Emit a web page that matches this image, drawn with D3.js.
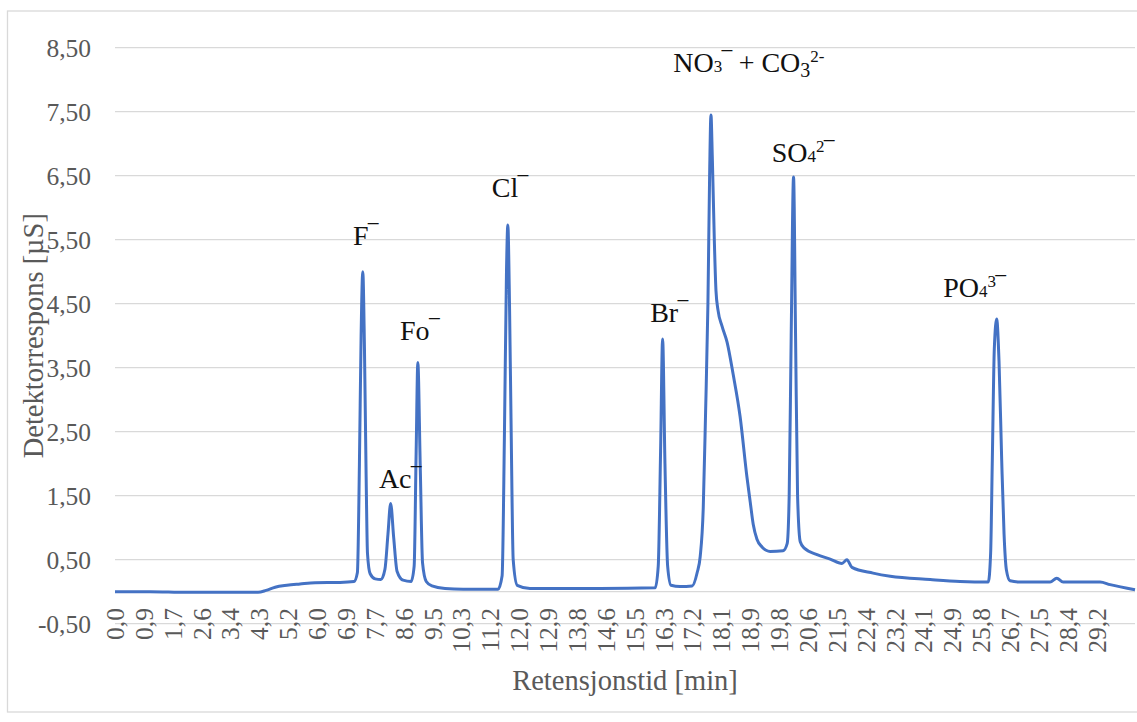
<!DOCTYPE html>
<html>
<head>
<meta charset="utf-8">
<script src="https://cdn.jsdelivr.net/npm/d3@7"></script>
<style>
  body { margin: 0; background: #fff; }
  svg { display: block; }
</style>
</head>
<body>
<div class="canvas"></div>
<script>
// chromatogram trace: retention time [min] and detector response [µS]
const retTime = [
  0.00, 1.04, 2.14, 3.43, 4.26, 4.50, 4.77, 5.12, 5.51, 5.96, 6.70, 7.12,
  7.22, 7.28, 7.33, 7.38, 7.43, 7.48, 7.52, 7.60, 7.75, 7.92,
  8.04, 8.13, 8.21, 8.30, 8.40, 8.58, 8.82,
  8.91, 8.97, 9.02, 9.09, 9.16, 9.27, 9.44, 9.83, 10.37, 11.41,
  11.53, 11.60, 11.66, 11.70, 11.75, 11.80, 11.86, 11.98, 12.36, 14.45, 16.09,
  16.18, 16.25, 16.31, 16.38, 16.46, 16.56, 16.83, 17.19,
  17.34, 17.43, 17.52, 17.59, 17.66, 17.71, 17.75, 17.79, 17.85, 17.90, 17.96,
  18.08, 18.23, 18.41, 18.62, 18.82, 18.92, 19.01, 19.12, 19.27, 19.51, 19.90, 20.02,
  20.08, 20.14, 20.21, 20.27, 20.33, 20.41, 20.53, 20.91, 21.30, 21.65, 21.80, 21.95,
  22.58, 23.09, 24.28, 25.17, 26.01,
  26.08, 26.13, 26.19, 26.26, 26.33, 26.41, 26.48, 26.55, 26.66, 26.96,
  27.85, 28.05, 28.24, 29.34, 29.64, 30.38
];
const response = [
  0.00, 0.00, -0.01, -0.01, -0.01, 0.02, 0.07, 0.10, 0.12, 0.14, 0.145, 0.16,
  0.30, 2.00, 4.00, 5.00, 3.80, 1.80, 0.60, 0.28, 0.20, 0.19,
  0.35, 0.90, 1.38, 0.85, 0.32, 0.18, 0.16,
  0.40, 2.20, 3.58, 2.00, 0.45, 0.16, 0.09, 0.05, 0.04, 0.04,
  0.25, 2.50, 5.00, 5.73, 4.50, 2.50, 0.50, 0.10, 0.05, 0.05, 0.06,
  0.40, 2.20, 3.95, 2.00, 0.40, 0.10, 0.08, 0.09,
  0.30, 0.55, 1.30, 2.80, 4.50, 6.50, 7.45, 6.80, 5.50, 4.70, 4.40,
  4.15, 3.90, 3.40, 2.73, 1.80, 1.40, 1.05, 0.82, 0.70, 0.63, 0.64, 0.75,
  1.50, 4.00, 6.48, 4.00, 1.50, 0.78, 0.68, 0.58, 0.51, 0.44, 0.50, 0.38,
  0.29, 0.24, 0.19, 0.16, 0.15,
  0.60, 2.05, 3.80, 4.26, 3.60, 2.05, 0.90, 0.34, 0.17, 0.15,
  0.15, 0.21, 0.15, 0.15, 0.11, 0.03
];

const yTicks = [-0.5, 0.5, 1.5, 2.5, 3.5, 4.5, 5.5, 6.5, 7.5, 8.5];
const xTickStep = 0.86;
const xTickLabels = [
  '0,0', '0,9', '1,7', '2,6', '3,4', '4,3', '5,2', '6,0', '6,9', '7,7', '8,6', '9,5',
  '10,3', '11,2', '12,0', '12,9', '13,8', '14,6', '15,5', '16,3', '17,2', '18,1',
  '18,9', '19,8', '20,6', '21,5', '22,4', '23,2', '24,1', '24,9', '25,8', '26,7',
  '27,5', '28,4', '29,2'
];

// peak labels: anchor in data units (left edge / baseline of the text)
const peakLabels = [
  [['F', 'n'], ['‾', 'n']],
  [['Ac', 'n'], ['‾', 'n']],
  [['Fo', 'n'], ['‾', 'n']],
  [['Cl', 'n'], ['‾', 'n']],
  [['Br', 'n'], ['‾', 'n']],
  [['NO', 'n'], ['3', 'sub'], ['‾', 'n'], [' + CO', 'n'], ['3', 'low'], ['2-', 'sup']],
  [['SO', 'n'], ['4', 'sub'], ['2', 'sup'], ['‾', 'n']],
  [['PO', 'n'], ['4', 'sub'], ['3', 'sup'], ['‾', 'n']]
];
const labelTime = [7.09, 7.86, 8.49, 11.22, 15.94, 16.63, 19.56, 24.67];
const labelResp = [5.42, 1.62, 3.93, 6.17, 4.22, 8.125, 6.72, 4.60];

const width = 1137, height = 722;
const plot = { left: 115, right: 1135, top: 47.7, bottom: 623.7 };
const serif = '"Liberation Serif", "Times New Roman", serif';

const svg = d3.select('.canvas')
  .append('svg')
  .attr('width', width)
  .attr('height', height);

// chart area border
svg.append('rect')
  .attr('x', 7.5).attr('y', 11)
  .attr('width', 1150).attr('height', 701)
  .attr('fill', 'none')
  .attr('stroke', '#d9d9d9')
  .attr('stroke-width', 1.3);

const x = d3.scaleLinear()
  .domain([0, 30.38])
  .range([plot.left, plot.right]);

const y = d3.scaleLinear()
  .domain([-0.5, 8.5])
  .range([plot.bottom, plot.top]);

const nb = d3.formatLocale({ decimal: ',', thousands: ' ', grouping: [3], currency: ['', ''], minus: '-' });
const fmt = nb.format('.2f');

// horizontal gridlines + zero axis line
svg.append('g')
  .selectAll('line')
  .data(yTicks.concat([0]))
  .join('line')
  .attr('x1', plot.left).attr('x2', plot.right)
  .attr('y1', d => y(d)).attr('y2', d => y(d))
  .attr('stroke', '#d9d9d9')
  .attr('stroke-width', 1.3);

// y tick labels
svg.append('g')
  .selectAll('text')
  .data(yTicks)
  .join('text')
  .attr('x', 91)
  .attr('y', d => y(d))
  .attr('dy', '0.35em')
  .attr('text-anchor', 'end')
  .attr('font-family', serif)
  .attr('font-size', 25.5)
  .attr('fill', '#595959')
  .text(d => fmt(d));

// x tick labels, rotated
svg.append('g')
  .selectAll('text')
  .data(xTickLabels)
  .join('text')
  .attr('transform', (d, i) => `translate(${x(i * xTickStep)}, 608) rotate(-90)`)
  .attr('dy', '0.35em')
  .attr('text-anchor', 'end')
  .attr('font-family', serif)
  .attr('font-size', 25.5)
  .attr('fill', '#595959')
  .text(d => d);

// axis titles
svg.append('text')
  .attr('x', (plot.left + plot.right) / 2)
  .attr('y', 690)
  .attr('text-anchor', 'middle')
  .attr('font-family', serif)
  .attr('font-size', 28.5)
  .attr('fill', '#595959')
  .text('Retensjonstid [min]');

svg.append('text')
  .attr('transform', `translate(43, ${(plot.top + plot.bottom) / 2}) rotate(-90)`)
  .attr('text-anchor', 'middle')
  .attr('font-family', serif)
  .attr('font-size', 28.5)
  .attr('fill', '#595959')
  .text('Detektorrespons [µS]');

// the trace
const trace = retTime.map((t, i) => ({ t, v: response[i] }));
const line = d3.line()
  .x(d => x(d.t))
  .y(d => y(d.v))
  .curve(d3.curveMonotoneX);

svg.append('path')
  .datum(trace)
  .attr('d', line)
  .attr('fill', 'none')
  .attr('stroke', '#4472c4')
  .attr('stroke-width', 3)
  .attr('stroke-linejoin', 'round');

// peak labels
const partStyle = {
  n: { size: 28, shift: 0 },
  sub: { size: 17, shift: 0 },
  low: { size: 20, shift: 5 },
  sup: { size: 17, shift: -10 }
};

const labels = svg.append('g')
  .attr('font-family', serif)
  .attr('fill', '#111');

peakLabels.forEach((parts, i) => {
  const txt = labels.append('text')
    .attr('x', x(labelTime[i]))
    .attr('y', y(labelResp[i]))
    .attr('font-size', 28);
  let cur = 0;
  parts.forEach(([s, kind]) => {
    const st = partStyle[kind];
    txt.append('tspan')
      .attr('dy', st.shift - cur)
      .attr('font-size', st.size)
      .style('white-space', 'pre')
      .text(s);
    cur = st.shift;
  });
});
</script>
</body>
</html>
